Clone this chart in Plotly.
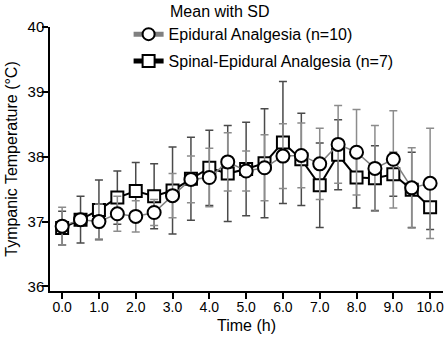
import plotly.graph_objects as go

time_h = [0.0, 0.5, 1.0, 1.5, 2.0, 2.5, 3.0, 3.5, 4.0, 4.5, 5.0, 5.5, 6.0, 6.5, 7.0, 7.5, 8.0, 8.5, 9.0, 9.5, 10.0]

epidural_mean = [36.93, 37.03, 37.00, 37.12, 37.08, 37.14, 37.40, 37.65, 37.68, 37.92, 37.78, 37.83, 38.01, 38.02, 37.89, 38.19, 38.07, 37.82, 37.96, 37.52, 37.59]
epidural_sd = [0.29, 0.08, 0.27, 0.27, 0.24, 0.20, 0.34, 0.36, 0.45, 0.45, 0.31, 0.51, 0.50, 0.50, 0.55, 0.60, 0.66, 0.66, 0.75, 0.62, 0.85]

spinal_mean = [36.90, 37.03, 37.18, 37.37, 37.47, 37.39, 37.48, 37.66, 37.83, 37.74, 37.81, 37.90, 38.22, 37.96, 37.56, 38.03, 37.68, 37.67, 37.73, 37.49, 37.22]
spinal_sd = [0.26, 0.36, 0.46, 0.41, 0.44, 0.50, 0.67, 0.64, 0.58, 0.74, 0.72, 0.84, 0.94, 0.71, 0.65, 0.54, 0.47, 0.50, 0.34, 0.58, 0.34]

x_ticks = [0, 1, 2, 3, 4, 5, 6, 7, 8, 9, 10]
x_tick_labels = ["0.0", "1.0", "2.0", "3.0", "4.0", "5.0", "6.0", "7.0", "8.0", "9.0", "10.0"]
y_ticks = [36, 37, 38, 39, 40]

FONT = "Arial, Liberation Sans, sans-serif"

fig = go.Figure()

fig.add_trace(go.Scatter(
    x=time_h, y=spinal_mean, name="Spinal-Epidural Analgesia (n=7)",
    mode="lines+markers", legendrank=2, legendgroup="b",
    line=dict(color="#000000", width=2),
    marker=dict(symbol="square", size=12, color="white", line=dict(color="#000000", width=2)),
    error_y=dict(type="data", array=spinal_sd, visible=True, color="#4a4a4a", thickness=1.5, width=4),
))
fig.add_trace(go.Scatter(
    x=time_h, y=epidural_mean, name="Epidural Analgesia (n=10)",
    mode="lines+markers", legendrank=1, legendgroup="a",
    line=dict(color="#808080", width=1.5),
    marker=dict(symbol="circle", size=13, color="white", line=dict(color="#000000", width=2)),
    error_y=dict(type="data", array=epidural_sd, visible=True, color="#8c8c8c", thickness=1.5, width=4),
))

fig.update_layout(
    width=447, height=343,
    margin=dict(l=50, r=4, t=27, b=52),
    paper_bgcolor="white", plot_bgcolor="white",
    font=dict(family=FONT, size=14, color="#000000"),
    showlegend=True,
    legend=dict(
        x=0.2, y=1.037, xanchor="left", yanchor="top",
        traceorder="grouped", tracegroupgap=3,
        font=dict(family=FONT, size=16, color="#000000"),
        bgcolor="rgba(0,0,0,0)", itemsizing="constant",
    ),
    annotations=[dict(
        text="Mean with SD", xref="paper", yref="paper",
        x=(168 - 50) / 393, y=1.0 + (27 - 11) / 264, xanchor="left", yanchor="middle",
        showarrow=False, font=dict(family=FONT, size=16, color="#000000"),
    )],
    xaxis=dict(
        range=[-0.33, 10.35], tickmode="array", tickvals=x_ticks, ticktext=x_tick_labels,
        showgrid=False, zeroline=False, showline=True, linecolor="#000000", linewidth=1.5,
        ticks="outside", ticklen=6, tickwidth=1.5, tickcolor="#000000",
        tickfont=dict(family=FONT, size=14), ticklabelstandoff=-4,
        title=dict(text="Time (h)", font=dict(family=FONT, size=16), standoff=6),
    ),
    yaxis=dict(
        range=[35.93, 40.0], tickmode="array", tickvals=y_ticks,
        showgrid=False, zeroline=False, showline=True, linecolor="#000000", linewidth=1.5,
        ticks="outside", ticklen=6, tickwidth=1.5, tickcolor="#000000",
        tickfont=dict(family=FONT, size=15), ticklabelstandoff=-5,
        title=dict(text="Tympanic Temperature (°C)", font=dict(family=FONT, size=16), standoff=6),
    ),
)

fig.write_html("out.html", config={"displayModeBar": False},
               post_script="document.body.style.margin='0';document.body.style.overflow='hidden';")
